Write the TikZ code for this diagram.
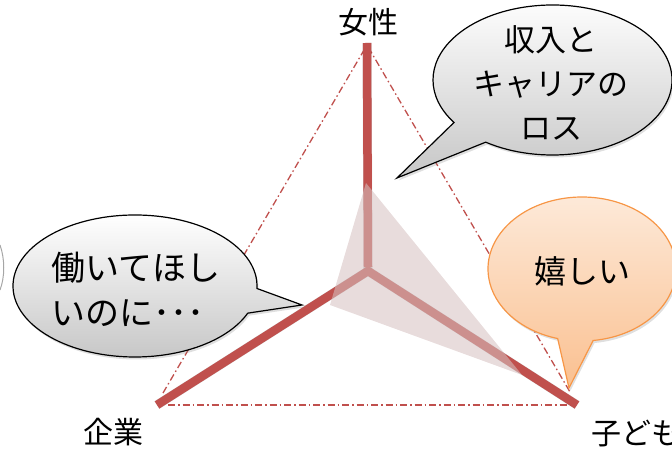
\documentclass[tikz,border=0pt]{standalone}
\usepackage{fontspec}
\setmainfont{Noto Sans CJK JP}
\usetikzlibrary{calc,shadows}
\definecolor{barred}{HTML}{C0504D}
\definecolor{triFill}{RGB}{214,193,193}
\definecolor{orEdge}{HTML}{F79646}
\definecolor{orTop}{HTML}{FDEADA}
\definecolor{orBot}{HTML}{FAC090}
\newcommand\bubble[7]{% style, center, rx, ry, a1, a2, tip
  \path[#1] (#7) -- ($(#2)+(#5:#3 and #4)$) arc[start angle=#5, end angle=#6, x radius=#3, y radius=#4] -- cycle;}
\begin{document}
\begin{tikzpicture}[x=1pt,y=1pt,
  bar/.style={barred, line width=8.5pt},
  barshadow/.style={black, opacity=0.18, line width=9pt},
  dashline/.style={barred, line width=1.3pt, dash pattern=on 7pt off 3pt on 1.5pt off 3pt},
  graycallout/.style={draw=black, line width=1.2pt, top color=white, bottom color=black!22,
    drop shadow={opacity=0.25, shadow xshift=1.5pt, shadow yshift=-2.5pt}},
  orcallout/.style={draw=orEdge, line width=1.2pt, top color=orTop, bottom color=orBot,
    drop shadow={opacity=0.25, shadow xshift=1.5pt, shadow yshift=-2.5pt}},
  calltext/.style={font=\fontsize{31}{44}\selectfont, align=center, inner sep=0pt},
  lbl/.style={font=\fontsize{30}{36}\selectfont, inner sep=0pt}
]
\useasboundingbox (0,0) rectangle (672,449);
\clip (0,0) rectangle (672,449);

% coordinates
\coordinate (C) at (368,178);
\coordinate (T) at (367,406);
\coordinate (L) at (157,44);
\coordinate (R) at (577,44);
\coordinate (DA) at (367,404);
\coordinate (DL) at (163,56);
\coordinate (DBL) at (168,44);
\coordinate (DBR) at (570,44);
\coordinate (DR) at (570,57);

% dash-dot triangle
\draw[dashline] (DL) -- (DA) -- (DR);
\draw[dashline] (DBL) -- (DBR);

% bars with shadow
\begin{scope}[shift={(1.5,-2.5)}]
  \draw[barshadow] (T) -- (C);
  \draw[barshadow] (L) -- (C) -- (R);
\end{scope}
\draw[bar] (T) -- ($(C)+(0,4)$);
\draw[bar, line join=miter] (L) -- (C) -- (R);

% translucent triangle
\coordinate (P1) at (366,266);
\coordinate (P2) at (330,144);
\coordinate (P3) at (522,74);
\fill[triFill, opacity=0.57] (P1) -- (P2) -- (P3) -- cycle;

% faint fragment at left edge
\draw[black!35, line width=1pt] (0,204) .. controls (5,190) and (5,172) .. (0,159);

% callouts
\coordinate (B1) at (552.5,369);
\coordinate (K1) at (397,271);
\bubble{graycallout}{B1}{119.5pt}{75pt}{236}{574.5}{K1}
\coordinate (B2) at (135,163);
\coordinate (K2) at (302,144);
\bubble{graycallout}{B2}{122pt}{71pt}{358}{697.5}{K2}
\coordinate (B3) at (582,180);
\coordinate (K3) at (569,61);
\bubble{orcallout}{B3}{94pt}{72pt}{276.8}{615}{K3}

\node[calltext] (txt1) at (551,366) {収入と\\キャリアの\\ロス};
\node[calltext, align=left, font=\fontsize{34}{45}\selectfont] (txt2) at (136,160) {働いてほし\\いのに･･･};
\node[calltext, font=\fontsize{32}{44}\selectfont] (txt3) at (582,178) {嬉しい};

% labels
\node[lbl] (fem) at (368,427) {女性};
\node[lbl] (corp) at (113,17) {企業};
\node[lbl, anchor=west] (child) at (591,15) {子ども};
\end{tikzpicture}
\end{document}
